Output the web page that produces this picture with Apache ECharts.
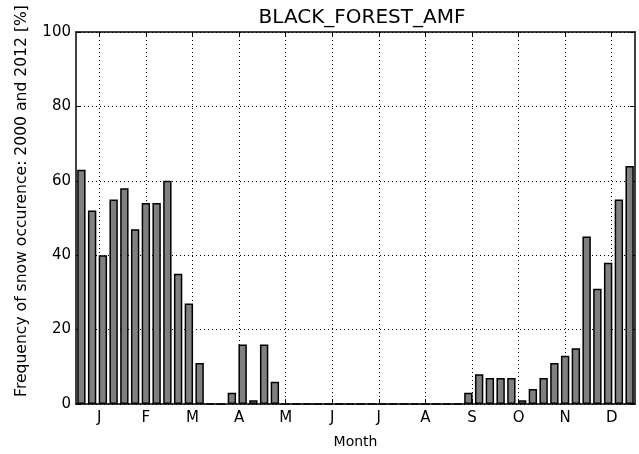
<!DOCTYPE html>
<html>
<head>
<meta charset="utf-8">
<script src="https://cdn.jsdelivr.net/npm/echarts@6/dist/echarts.min.js"></script>
<style>html,body{margin:0;padding:0;background:#fff}#c{width:639px;height:454px}</style>
</head>
<body>
<div id="c"></div>
<script>
// Weekly bins (52 weeks)
const weeks = Array.from({length: 52}, (_, i) => 'W' + (i + 1));
const snowFreq = [63, 52, 40, 55, 58, 47, 54, 54, 60, 35, 27, 11,
  0, 0, 3, 16, 1, 16, 6,
  0, 0, 0, 0, 0, 0, 0, 0, 0, 0, 0, 0, 0, 0, 0, 0, 0,
  3, 8, 7, 7, 7, 1, 4, 7, 11, 13, 15, 45, 31, 38, 55, 64];
// Half-month positions; month labels sit at mid-month
const monthTicks = ['', 'J', '', 'F', '', 'M', '', 'A', '', 'M', '', 'J', '', 'J', '', 'A', '', 'S', '', 'O', '', 'N', '', 'D', ''];
const yTicks = [0, 20, 40, 60, 80, 100];

const font = 'DejaVu Sans';
const isMonth = (i) => i % 2 === 1;
const dotted = {color: '#000', width: 1, type: [1, 3]};

const chart = echarts.init(document.getElementById('c'), null, {renderer: 'canvas'});
chart.setOption({
  animation: false,
  backgroundColor: '#fff',
  title: {
    text: 'BLACK_FOREST_AMF',
    left: 357, top: 3, textAlign: 'center',
    textStyle: {fontFamily: font, fontSize: 20, fontWeight: 'normal', color: '#000'}
  },
  grid: {left: 76, right: 4, top: 32, bottom: 50, containLabel: false, outerBoundsMode: 'none'},
  graphic: [{
    type: 'text', x: 22, y: 201, rotation: Math.PI / 2,
    style: {text: 'Frequency of snow occurence: 2000 and 2012 [%]', fontFamily: font, fontSize: 15.6,
      fill: '#000', align: 'center', verticalAlign: 'middle'}
  }],
  xAxis: [
    {type: 'category', data: weeks, boundaryGap: true, position: 'bottom',
      axisLine: {show: false}, axisTick: {show: false}, axisLabel: {show: false}, splitLine: {show: false}},
    {type: 'category', data: monthTicks, boundaryGap: false, position: 'bottom',
      name: 'Month', nameLocation: 'middle', nameGap: 31,
      nameTextStyle: {fontFamily: font, fontSize: 14, color: '#000'},
      axisLine: {show: true, onZero: false, lineStyle: {color: '#000', width: 1.5}},
      axisTick: {show: true, inside: true, length: 5, interval: isMonth, lineStyle: {color: '#000', width: 1}},
      axisLabel: {show: true, interval: isMonth, fontFamily: font, fontSize: 15, color: '#000', margin: 7},
      splitLine: {show: true, interval: isMonth, lineStyle: dotted}},
    {type: 'category', data: monthTicks, boundaryGap: false, position: 'top',
      axisLine: {show: true, onZero: false, lineStyle: {color: '#000', width: 1.5}},
      axisTick: {show: true, inside: true, length: 5, interval: isMonth, lineStyle: {color: '#000', width: 1}},
      axisLabel: {show: false}, splitLine: {show: false}}
  ],
  yAxis: [
    {type: 'value', min: yTicks[0], max: yTicks[yTicks.length - 1], interval: 20, position: 'left',
      axisLine: {show: true, onZero: false, lineStyle: {color: '#000', width: 1.5}},
      axisTick: {show: true, inside: true, length: 5, lineStyle: {color: '#000', width: 1}},
      axisLabel: {fontFamily: font, fontSize: 15, color: '#000', margin: 5},
      splitLine: {show: true, lineStyle: dotted}},
    {type: 'value', min: yTicks[0], max: yTicks[yTicks.length - 1], interval: 20, position: 'right',
      axisLine: {show: true, onZero: false, lineStyle: {color: '#000', width: 1.5}},
      axisTick: {show: true, inside: true, length: 5, lineStyle: {color: '#000', width: 1}},
      axisLabel: {show: false}, splitLine: {show: false}}
  ],
  series: [{
    type: 'bar', xAxisIndex: 0, yAxisIndex: 0, data: snowFreq,
    barCategoryGap: '22%',
    itemStyle: {color: '#808080', borderColor: '#000', borderWidth: 1.5}
  }]
});
</script>
</body>
</html>
